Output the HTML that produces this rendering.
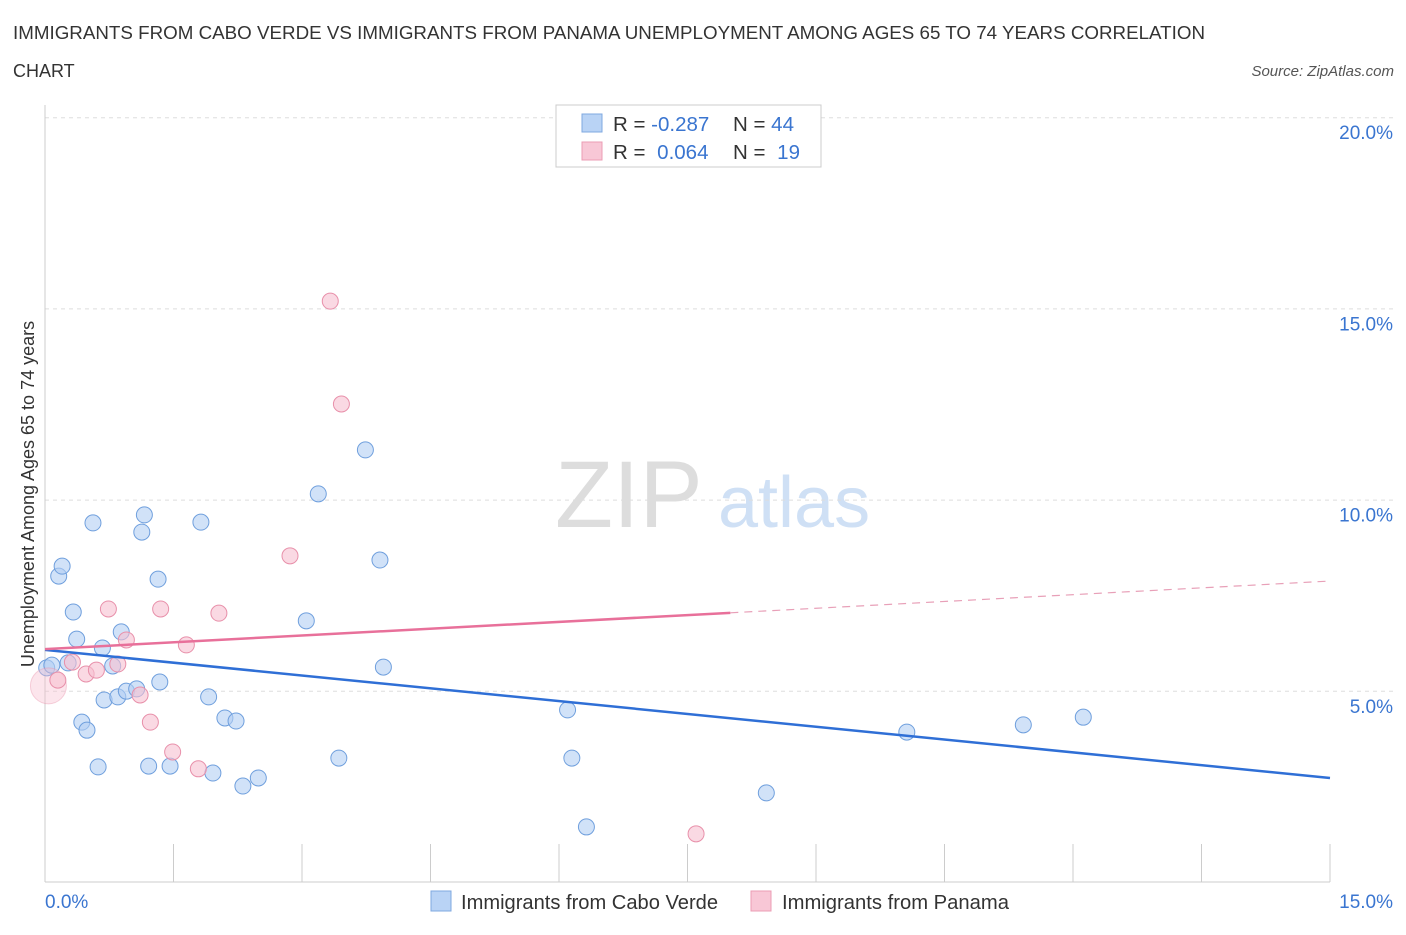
<!DOCTYPE html>
<html><head><meta charset="utf-8">
<style>
body{margin:0;background:#fff;font-family:"Liberation Sans",sans-serif;}
svg text{font-family:"Liberation Sans",sans-serif;}
</style></head>
<body>
<svg id="chart" width="1406" height="930" viewBox="0 0 1406 930" xmlns="http://www.w3.org/2000/svg">
<text x="13" y="39" font-size="18" fill="#333" textLength="1192" lengthAdjust="spacingAndGlyphs">IMMIGRANTS FROM CABO VERDE VS IMMIGRANTS FROM PANAMA UNEMPLOYMENT AMONG AGES 65 TO 74 YEARS CORRELATION</text>
<text x="13" y="77" font-size="18" fill="#333">CHART</text>
<text x="1394" y="76" font-size="15" fill="#555" text-anchor="end" font-style="italic">Source: ZipAtlas.com</text>
<text x="555" y="527" font-size="95" fill="#ddd" font-family="Liberation Serif">ZIP</text>
<text x="718" y="527" font-size="72" fill="#cfe0f5">atlas</text>
<g id="grid"></g>
<g id="axes"></g>
<g id="marks"></g>
<text transform="translate(34,494) rotate(-90)" font-size="18" fill="#333" text-anchor="middle">Unemployment Among Ages 65 to 74 years</text>
<text x="45" y="908" font-size="19" fill="#3a75d0">0.0%</text>
<text x="1393" y="908" font-size="19" fill="#3a75d0" text-anchor="end">15.0%</text>
<g>
<rect x="556" y="105" width="265" height="62" fill="#fff" stroke="#ccc"/>
<rect x="582" y="114" width="20" height="18" fill="#b9d3f5" stroke="#7fa8e0"/>
<rect x="582" y="142" width="20" height="18" fill="#f8c7d6" stroke="#eb9cb4"/>
<text x="613" y="131" font-size="20.5" fill="#333">R = <tspan fill="#3a75d0">-0.287</tspan></text>
<text x="733" y="131" font-size="20.5" fill="#333">N = <tspan fill="#3a75d0">44</tspan></text>
<text x="613" y="159" font-size="20.5" fill="#333">R = <tspan fill="#3a75d0" dx="6">0.064</tspan></text>
<text x="733" y="159" font-size="20.5" fill="#333">N = <tspan fill="#3a75d0" dx="6">19</tspan></text>
</g>
<g>
<rect x="431" y="891" width="20" height="20" fill="#b9d3f5" stroke="#7fa8e0"/>
<text x="461" y="909" font-size="20" fill="#333" textLength="257" lengthAdjust="spacingAndGlyphs">Immigrants from Cabo Verde</text>
<rect x="751" y="891" width="20" height="20" fill="#f8c7d6" stroke="#eb9cb4"/>
<text x="782" y="909" font-size="20" fill="#333" textLength="227" lengthAdjust="spacingAndGlyphs">Immigrants from Panama</text>
</g>
</svg>
<script>
const yTicks=[5,10,15,20];
const yTickLabels=["5.0%","10.0%","15.0%","20.0%"];
const xTicks=[0,1.5,3,4.5,6,7.5,9,10.5,12,13.5,15];
const blueX=[0.02,0.08,0.16,0.20,0.27,0.33,0.37,0.43,0.49,0.56,0.62,0.67,0.69,0.79,0.85,0.89,0.95,1.07,1.13,1.16,1.21,1.32,1.34,1.46,1.82,1.91,1.96,2.10,2.23,2.31,2.49,3.05,3.19,3.43,3.74,3.91,3.95,6.10,6.15,6.32,8.42,10.06,11.42,12.12];
const blueY=[5.60,5.67,8.00,8.26,5.73,7.06,6.35,4.18,3.97,9.39,3.01,6.12,4.76,5.65,4.84,6.54,4.99,5.05,9.15,9.60,3.03,7.92,5.23,3.03,9.41,4.84,2.85,4.29,4.21,2.51,2.72,6.83,10.15,3.24,11.30,8.42,5.62,4.50,3.24,1.44,2.33,3.92,4.11,4.31];
const pinkX=[0.04,0.15,0.32,0.48,0.60,0.74,0.85,0.95,1.11,1.23,1.35,1.49,1.65,1.79,2.03,2.86,3.33,3.46,7.60];
const pinkY=[5.13,5.28,5.75,5.44,5.54,7.14,5.70,6.33,4.89,4.18,7.14,3.40,6.20,2.96,7.03,8.53,15.19,12.50,1.26];
const blueTrend=[6.07,2.72];
const pinkTrend=[6.09,7.87];
const pinkSolidEnd=8.0;
const NS="http://www.w3.org/2000/svg";
const X0=45,X1=1330,Y0=882,PY=38.24;
const sx=v=>X0+(v/15)*(X1-X0);
const sy=v=>Y0-v*PY;
function mk(tag,attrs,parent){const e=document.createElementNS(NS,tag);for(const k in attrs)e.setAttribute(k,attrs[k]);parent.appendChild(e);return e;}
const grid=document.getElementById('grid'),axes=document.getElementById('axes'),marks=document.getElementById('marks');
yTicks.forEach((t,i)=>{
 const l=mk('line',{x1:X0,x2:1393,y1:sy(t)+0.5,y2:sy(t)+0.5,stroke:'#ddd','stroke-dasharray':'4,4'},grid);
 
 
 const tx=mk('text',{x:1393,y:sy(t)+22,'font-size':19,fill:'#3a75d0','text-anchor':'end'},grid);
 tx.textContent=yTickLabels[i];
 
 
});
const ya=mk('line',{x1:X0,x2:X0,y1:105,y2:Y0,stroke:'#ccc'},axes);


const xa=mk('line',{x1:X0,x2:X1,y1:Y0,y2:Y0,stroke:'#ccc'},axes);


xTicks.forEach(t=>{
 const l=mk('line',{x1:sx(t),x2:sx(t),y1:Y0-38,y2:Y0,stroke:'#ccc'},axes);
 
 
});
function dot(x,y,r,fill,stroke,name,op){
 const c=mk('circle',{cx:sx(x),cy:sy(y),r:r,fill:fill,'fill-opacity':op,stroke:stroke,'stroke-width':1,'stroke-opacity':op<0.5?0.4:1},marks);
 
 
}
blueX.forEach((x,i)=>dot(x,blueY[i],8,'#b3cff3','#6f9fdd','cabo-verde-point',0.6));
pinkX.forEach((x,i)=>dot(x,pinkY[i],i===0?18:8,'#f7bfd0','#e890aa','panama-point',i===0?0.4:0.6));
const bt=mk('line',{x1:sx(0),y1:sy(blueTrend[0]),x2:sx(15),y2:sy(blueTrend[1]),stroke:'#2f6fd6','stroke-width':2.5},marks);


const pAt=v=>pinkTrend[0]+(pinkTrend[1]-pinkTrend[0])*v/15;
const ps=mk('line',{x1:sx(0),y1:sy(pAt(0)),x2:sx(pinkSolidEnd),y2:sy(pAt(pinkSolidEnd)),stroke:'#e8709a','stroke-width':2.5},marks);


const pd=mk('line',{x1:sx(pinkSolidEnd),y1:sy(pAt(pinkSolidEnd)),x2:sx(15),y2:sy(pAt(15)),stroke:'#e8a0b8','stroke-width':1.2,'stroke-dasharray':'8,6'},marks);


</script>
</body></html>
